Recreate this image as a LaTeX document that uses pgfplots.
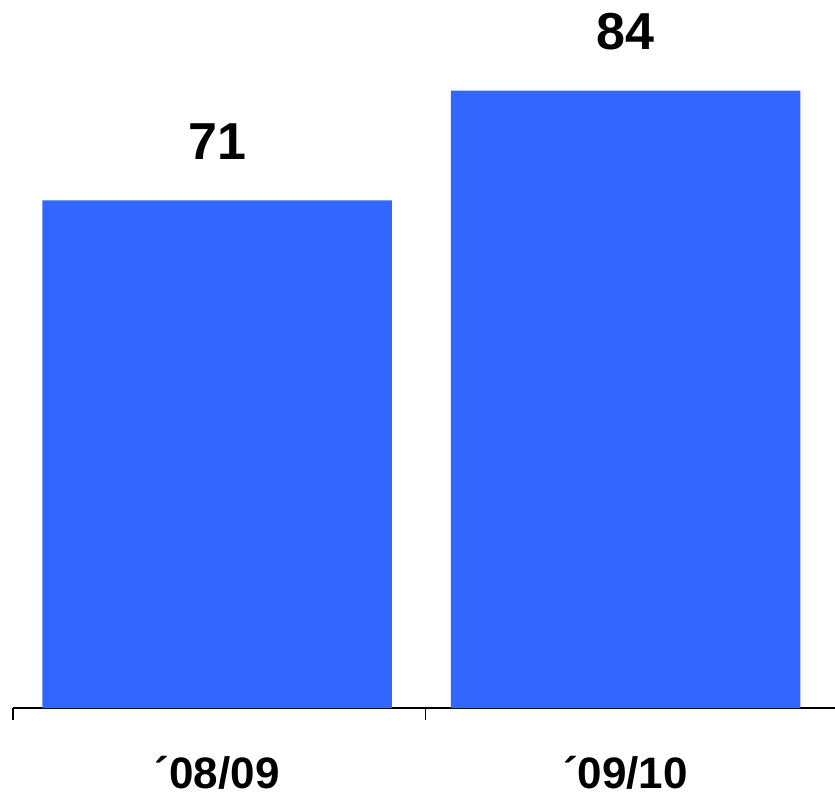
\documentclass[border=0pt]{standalone}
\usepackage{fontspec}
\setmainfont{Liberation Sans}
\usepackage{pgfplots}
\pgfplotsset{compat=1.18}
\definecolor{barblue}{RGB}{51,102,255}
\begin{document}
\begin{tikzpicture}
\path[use as bounding box] (-13pt,-88pt) rectangle (822pt,708pt);
\begin{axis}[
  at={(0,0)}, anchor=south west,
  scale only axis, width=822pt, height=708pt,
  xmin=-0.5, xmax=1.513, ymin=11, ymax=94.7,
  axis x line*=bottom, axis y line=none,
  x axis line style={-, line width=1.2pt},
  xtick={0,1}, xticklabels={´08/09,´09/10},
  major tick length=0pt,
  minor xtick={-0.5,0.51}, minor tick length=12pt,
  tick align=outside, tick style={black, line width=1.2pt},
  xticklabel style={font=\fontsize{44}{44}\selectfont\bfseries, anchor=base, yshift=-80pt},
  /pgf/number format/assume math mode=true,
  ybar, bar width=349.5pt, bar shift=0pt,
  nodes near coords,
  nodes near coords style={font=\fontsize{52}{52}\selectfont\bfseries, anchor=base, yshift=41pt},
  clip=false,
]
\addplot[fill=barblue, draw=none] coordinates {(0,71) (1,84)};
\end{axis}
\end{tikzpicture}
\end{document}
